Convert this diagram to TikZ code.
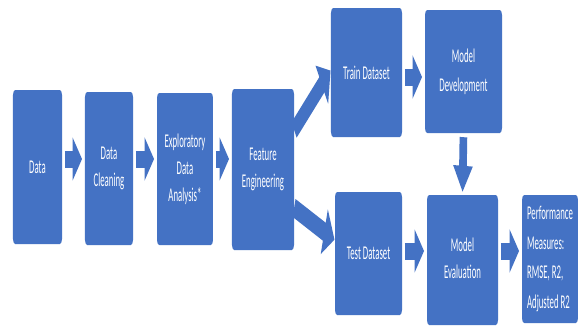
\documentclass[tikz,border=0pt]{standalone}
\usepackage{fontspec}
\setmainfont{Carlito}
\usetikzlibrary{arrows.meta}
\definecolor{boxblue}{HTML}{4472C4}
\newcommand{\lifted}[2]{\raisebox{#1}{\begin{tabular}{@{}c@{}}#2\end{tabular}}}
\tikzset{
  stage/.style={fill=boxblue, rounded corners=5pt, inner sep=0pt, text=white,
    align=center, font=\fontsize{19.5}{27}\selectfont},
  fat/.style={draw=boxblue, line width=17pt,
    -{Triangle[length=21pt, width=42pt]},
    shorten <=6.4pt, shorten >=6.4pt},
  slant/.style={fat, line width=19pt, -{Triangle[length=24pt, width=46pt]},
    shorten <=0pt, shorten >=1pt},
}
\begin{document}
\begin{tikzpicture}
\fill[white] (0,0) rectangle (580pt,-327pt);
\useasboundingbox (0,0) rectangle (580pt,-327pt);
% the flow is laid out in pixel units and set in a narrowed canvas
\begin{scope}[transform canvas={xscale=0.45}, x=2.22222pt, y=-1pt]
  \node[stage, minimum width=108.9pt, minimum height=154pt] (data)  at (37.5,167)   {Data};
  \node[stage, minimum width=106.7pt, minimum height=153pt] (clean) at (109,168.5)  {Data\\Cleaning};
  \node[stage, minimum width=124.4pt, minimum height=152pt] (eda)   at (185,169)    {Exploratory\\Data\\Analysis*};
  \node[stage, minimum width=137.8pt, minimum height=161pt] (fe)    at (263,169.5)  {Feature\\Engineering};
  \node[stage, minimum width=157.8pt, minimum height=129pt] (train) at (366.5,72.5) {Train Dataset};
  \node[stage, minimum width=171.1pt, minimum height=123pt] (dev)   at (463.5,71.5)
        {\lifted{5pt}{Model\\[2pt]Development}};
  \node[stage, minimum width=148.9pt, minimum height=123pt] (test)  at (368.5,253.5){Test Dataset};
  \node[stage, minimum width=157.8pt, minimum height=130pt] (eval)  at (462.5,260)
        {\lifted{7pt}{Model\\[0pt]Evaluation}};
  \node[stage, minimum width=124.4pt, minimum height=128pt, align=left,
        font=\fontsize{19.5}{29.5}\selectfont] (perf) at (550,259)
        {Performance\\Measures:\\RMSE, R2,\\Adjusted R2};

  % arrow rows
  \coordinate (r1) at (0,159);
  \coordinate (r2) at (0,77);
  \coordinate (r3) at (0,251);
  \coordinate (u1) at (0,130);
  \coordinate (u2) at (0,70);
  \coordinate (d1) at (0,208);
  \coordinate (d2) at (0,240);

  \draw[fat] (data.east |- r1)  -- (clean.west |- r1);
  \draw[fat] (clean.east |- r1) -- (eda.west |- r1);
  \draw[fat] (eda.east |- r1)   -- (fe.west |- r1);
  \draw[slant] (fe.east |- u1) -- (train.west |- u2);
  \draw[slant] (fe.east |- d1) -- (test.west |- d2);
  \draw[fat] (train.east |- r2) -- (dev.west |- r2);
  \draw[fat, shorten <=4pt, shorten >=3pt, -{Triangle[length=26pt, width=42pt]}] (dev.south) -- (eval.north);
  \draw[fat] (test.east |- r3)  -- (eval.west |- r3);
  \draw[fat] (eval.east |- r3)  -- (perf.west |- r3);
\end{scope}
\end{tikzpicture}
\end{document}
